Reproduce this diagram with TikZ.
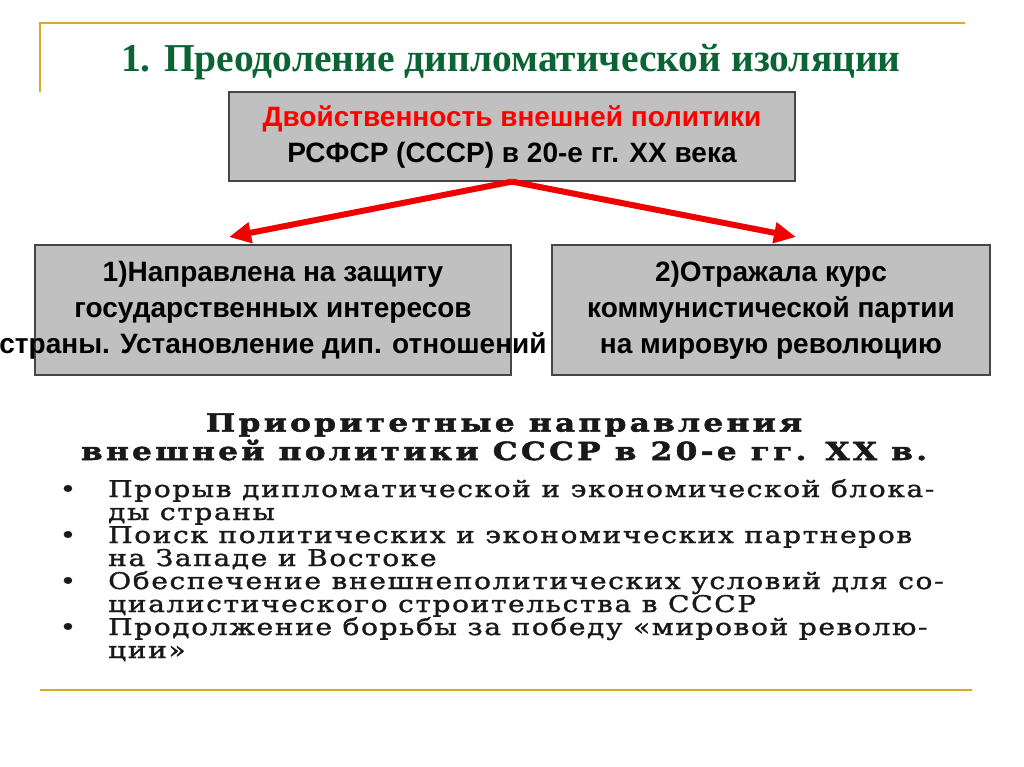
\documentclass[tikz,border=0pt]{standalone}
\usepackage{fontspec}
\setmainfont{Liberation Serif}
\setsansfont{Liberation Sans}
\newfontfamily\scanfont[LetterSpace=7, FakeStretch=1.22, FakeBold=1.5]{DejaVu Serif}
\newfontfamily\scanhead[LetterSpace=13, FakeStretch=1.25, FakeBold=2]{DejaVu Serif}
\usetikzlibrary{arrows.meta, positioning}

\definecolor{titlegreen}{RGB}{12,100,52}
\definecolor{slidegold}{RGB}{218,170,40}
\definecolor{boxgray}{RGB}{192,192,192}
\definecolor{boxline}{RGB}{70,70,70}
\definecolor{arrowred}{RGB}{240,0,0}
\definecolor{scanink}{RGB}{25,25,25}

\newcommand{\listdot}{\llap{•\hspace{32pt}}}

\begin{document}
\begin{tikzpicture}[
  x=1pt, y=-1pt,
  box/.style={draw=boxline, line width=1.2pt, fill=boxgray, align=center, inner sep=0pt,
    font=\sffamily\bfseries\fontsize{28}{36}\selectfont},
  arrow/.style={-{Triangle[length=22pt,width=20pt]}, arrowred, line width=6pt},
  goldline/.style={slidegold, line width=2.5pt},
  scantext/.style={align=left, inner sep=0pt, text=scanink,
    font=\scanfont\fontsize{23}{23}\selectfont}
]
\useasboundingbox (0,0) rectangle (1024,767);

% frame lines
\draw [goldline] (40,92) -- (40,23) -- (965,23);
\draw [goldline] (40,690) -- (972,690);

\node (title) [anchor=base, inner sep=0pt, text=titlegreen,
  font=\bfseries\fontsize{39.5}{40}\selectfont] at (511,72)
  {1. Преодоление дипломатической изоляции};

\node (dual) [box, minimum width=566pt, minimum height=89pt] at (512,136.5)
  {\textcolor{red}{Двойственность внешней политики}\\РСФСР (СССР) в 20-е гг. XX века};

\node (defense) [box, minimum width=476pt, minimum height=130pt] at (273,310)
  {1)Направлена на защиту\\государственных интересов\\
   \makebox[0pt]{страны. Установление дип. отношений}};
\node (course) [box, minimum width=438pt, minimum height=130pt] at (771,310)
  {2)Отражала курс\\коммунистической партии\\на мировую революцию};

\coordinate (lefttip) at (229,237);
\coordinate (righttip) at (796,237);
\draw [arrow] (dual.south) -- (lefttip);
\draw [arrow] (dual.south) -- (righttip);

% scanned list
\node (priority) [anchor=base, align=center, inner sep=0pt, text=scanink,
  font=\scanhead\bfseries\fontsize{25}{28.5}\selectfont] at (504,460)
  {Приоритетные направления\\внешней политики СССР в 20-е гг. XX в.};

\node (aims) [scantext, anchor=base west] at (108,658)
  {\listdot Прорыв дипломатической и экономической блока-\\
   ды страны\\
   \listdot Поиск политических и экономических партнеров\\
   на Западе и Востоке\\
   \listdot Обеспечение внешнеполитических условий для со-\\
   циалистического строительства в СССР\\
   \listdot Продолжение борьбы за победу «мировой револю-\\
   ции»};
\end{tikzpicture}
\end{document}
